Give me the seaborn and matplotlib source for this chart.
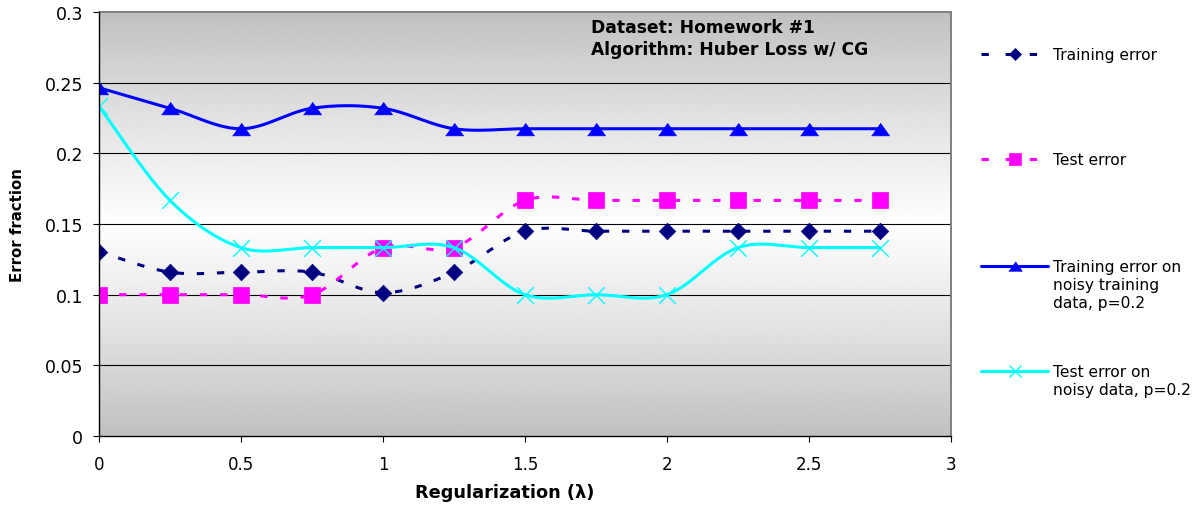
import numpy as np
import pandas as pd
import matplotlib
matplotlib.use("Agg")
import matplotlib.pyplot as plt
import seaborn as sns
from matplotlib.lines import Line2D

# ---- data ----
lam = [0, 0.25, 0.5, 0.75, 1.0, 1.25, 1.5, 1.75, 2.0, 2.25, 2.5, 2.75]
train_err = [0.1304, 0.1159, 0.1159, 0.1159, 0.1014, 0.1159,
             0.1449, 0.1449, 0.1449, 0.1449, 0.1449, 0.1449]
test_err = [0.1, 0.1, 0.1, 0.1, 0.1333, 0.1333,
            0.1667, 0.1667, 0.1667, 0.1667, 0.1667, 0.1667]
noisy_train_err = [0.2464, 0.2319, 0.2174, 0.2319, 0.2319, 0.2174,
                   0.2174, 0.2174, 0.2174, 0.2174, 0.2174, 0.2174]
noisy_test_err = [0.2333, 0.1667, 0.1333, 0.1333, 0.1333, 0.1333,
                  0.1, 0.1, 0.1, 0.1333, 0.1333, 0.1333]
series_names = ["Training error", "Test error",
                "Training error on\nnoisy training\ndata, p=0.2",
                "Test error on\nnoisy data, p=0.2"]
x_ticks = [0, 0.5, 1, 1.5, 2, 2.5, 3]
y_ticks = [0, 0.05, 0.1, 0.15, 0.2, 0.25, 0.3]
title_text = "Dataset: Homework #1\nAlgorithm: Huber Loss w/ CG"

# ---- styles ----
sns.set_theme(style="white")
plt.rcParams["font.family"] = ["DejaVu Sans"]

W, H = 1202, 510
fig = plt.figure(figsize=(W / 100, H / 100), dpi=100)
ax = fig.add_axes([99 / W, 1 - 437 / H, (951 - 99) / W, (437 - 13) / H])


def smooth(x, y, n=40):
    pts = np.column_stack([x, y]).astype(float)
    out = []
    for i in range(len(pts) - 1):
        p0 = pts[i - 1] if i > 0 else pts[i]
        p1, p2 = pts[i], pts[i + 1]
        p3 = pts[i + 2] if i + 2 < len(pts) else pts[i + 1]
        c1 = p1 + (p2 - p0) / 6.0
        c2 = p2 - (p3 - p1) / 6.0
        t = np.linspace(0, 1, n, endpoint=(i == len(pts) - 2))[:, None]
        b = ((1 - t) ** 3) * p1 + 3 * ((1 - t) ** 2) * t * c1 + 3 * (1 - t) * t ** 2 * c2 + t ** 3 * p2
        out.append(b)
    out = np.vstack(out)
    return out[:, 0], out[:, 1]


# background gradient (gray edges, white center)
yy = np.linspace(0, 1, 400)
g = 0.75 + 0.25 * (1 - np.abs(yy - 0.5) / 0.5) ** 0.9
grad = np.tile(g[:, None], (1, 2))
ax.imshow(grad, extent=[0, 3, 0, 0.3], origin="lower", aspect="auto",
          cmap="gray", vmin=0, vmax=1, zorder=0, interpolation="bilinear")

styles = [
    dict(color="#000080", dashes=(2.4, 4.2), marker="D", ms=8.4, mec="#000080", mew=0.5, lw=2.2),
    dict(color="#FF00FF", dashes=(2.4, 4.2), marker="s", ms=11.0, mec="#FF00FF", mew=0.5, lw=2.2),
    dict(color="#0000FF", dashes=None, marker=[(-1, -0.7), (1, -0.7), (0, 0.7)], ms=13, mec="#0000FF", mew=0.5, lw=2.2),
    dict(color="#00FFFF", dashes=None, marker="x", ms=12, mec="#00FFFF", mew=1.0, lw=2.2),
]
all_y = [train_err, test_err, noisy_train_err, noisy_test_err]

for k, (yv, st, name) in enumerate(zip(all_y, styles, series_names)):
    sx, sy = smooth(lam, yv)
    dfl = pd.DataFrame({"x": sx, "y": sy})
    sns.lineplot(data=dfl, x="x", y="y", sort=False, estimator=None, ax=ax,
                 color=st["color"], lw=st["lw"], zorder=3 + 2 * k)
    if st["dashes"] is not None:
        ax.lines[-1].set_dashes(st["dashes"])
    dfm = pd.DataFrame({"x": lam, "y": yv})
    sns.scatterplot(data=dfm, x="x", y="y", ax=ax, marker=st["marker"],
                    s=st["ms"] ** 2, color=st["color"], edgecolor=st["mec"],
                    linewidth=st["mew"], zorder=4 + 2 * k)

ax.set_xlim(0, 3)
ax.set_ylim(0, 0.3)
ax.set_xticks(x_ticks)
ax.set_xticklabels([f"{v:g}" for v in x_ticks])
ax.set_yticks(y_ticks)
ax.set_yticklabels([f"{v:g}" for v in y_ticks])
for yv in y_ticks[1:-1]:
    ax.axhline(yv, color="black", lw=0.8, zorder=1)

ax.tick_params(axis="y", direction="out", length=4.5, width=0.8, color="black",
               labelsize=12.5, pad=7, left=True, labelcolor="black")
ax.tick_params(axis="x", direction="out", length=4, width=0.8, color="black",
               labelsize=12, pad=10, bottom=True, labelcolor="black")

for side in ["top", "right"]:
    ax.spines[side].set_color("#808080")
    ax.spines[side].set_linewidth(1.4)
for side in ["left", "bottom"]:
    ax.spines[side].set_color("black")
    ax.spines[side].set_linewidth(1.0)
    ax.spines[side].set_zorder(20)

ax.set_xlabel("Regularization (λ)", fontsize=12.8, fontweight="bold", color="black")
ax.set_ylabel("Error fraction", fontsize=10.8, fontweight="bold", color="black")
ax.xaxis.set_label_coords((505 - 99) / (951 - 99), -(493 - 437) / (437 - 13))
ax.yaxis.set_label_coords(-(99 - 18) / (951 - 99), 0.5)
ax.xaxis.label.set_va("center")
ax.yaxis.label.set_va("center")

ax.text((591 - 99) / (951 - 99), 1 - (19 - 13) / (437 - 13), title_text,
        transform=ax.transAxes, fontsize=12.3, fontweight="bold", color="black",
        ha="left", va="top", linespacing=1.3)

# ---- legend (manual, figure coordinates) ----
leg_y = [55, 160, 267, 372]
x0, x1, xm, xt = 981, 1048, 1015, 1053
for st, name, ly in zip(styles, series_names, leg_y):
    fy = 1 - ly / H
    ln = Line2D([x0 / W, x1 / W], [fy, fy], transform=fig.transFigure,
                color=st["color"], lw=st["lw"])
    if st["dashes"] is not None:
        ln.set_dashes((2.4, 5.5))
    fig.add_artist(ln)
    mk = Line2D([xm / W], [fy], transform=fig.transFigure, marker=st["marker"],
                ms=st["ms"] * 0.75, color=st["color"], mec=st["mec"],
                mew=st["mew"], lw=0)
    fig.add_artist(mk)
    fig.text(xt / W, fy + 7 / H, name, fontsize=11.2, color="black",
             ha="left", va="top", linespacing=1.27)

fig.savefig("out.png", dpi=100)
